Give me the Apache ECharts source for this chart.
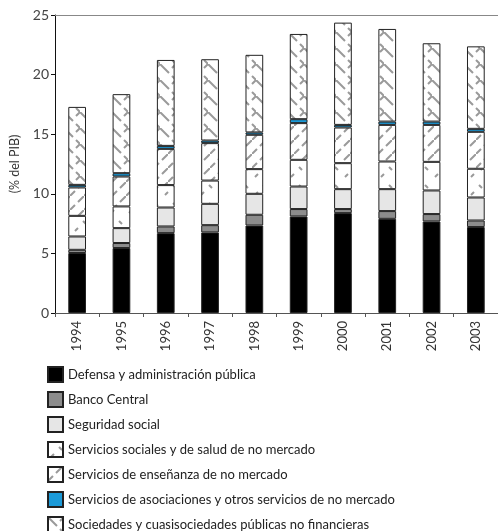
<!DOCTYPE html>
<html>
<head>
<meta charset="utf-8">
<script src="https://cdn.jsdelivr.net/npm/echarts@6/dist/echarts.min.js"></script>
<style>
html,body{margin:0;padding:0;background:#fff;}
#chart{width:498px;height:531px;}
</style>
</head>
<body>
<div id="chart"></div>
<script>
var years = ['1994','1995','1996','1997','1998','1999','2000','2001','2002','2003'];
var names = [
    'Defensa y administración pública',
    'Banco Central',
    'Seguridad social',
    'Servicios sociales y de salud de no mercado',
    'Servicios de enseñanza de no mercado',
    'Servicios de asociaciones y otros servicios de no mercado',
    'Sociedades y cuasisociedades públicas no financieras'
];
var defensa    = [5.03, 5.45, 6.70, 6.76, 7.34, 8.10, 8.38, 7.90, 7.68, 7.21];
var banco      = [0.27, 0.42, 0.56, 0.61, 0.90, 0.62, 0.34, 0.65, 0.62, 0.55];
var seguridad  = [1.12, 1.25, 1.59, 1.79, 1.76, 1.89, 1.67, 1.84, 1.98, 1.93];
var salud      = [1.73, 1.82, 1.88, 1.95, 2.07, 2.24, 2.18, 2.32, 2.40, 2.41];
var ensenanza  = [2.38, 2.51, 3.04, 3.14, 2.88, 3.08, 2.99, 3.07, 3.10, 3.10];
var asociacion = [0.22, 0.28, 0.25, 0.22, 0.20, 0.33, 0.22, 0.28, 0.28, 0.25];
var sociedades = [6.54, 6.63, 7.21, 6.82, 6.51, 7.15, 8.58, 7.77, 6.57, 6.92];
var yTicks = [0, 5, 10, 15, 20, 25];

// tiles for the hatched segments
function tile(size, draw){
    var c = document.createElement('canvas');
    c.width = size; c.height = size;
    var ctx = c.getContext('2d');
    ctx.fillStyle = '#fff';
    ctx.fillRect(0, 0, size, size);
    ctx.strokeStyle = '#9a9a9a';
    ctx.lineWidth = 2;
    draw(ctx);
    return {image: c, repeat: 'repeat'};
}
var patSalud = tile(18, function(ctx){
    ctx.beginPath();
    ctx.moveTo(3, 15); ctx.lineTo(6, 12);
    ctx.moveTo(11, 5); ctx.lineTo(14, 8);
    ctx.stroke();
});
var patEns = tile(14, function(ctx){
    ctx.beginPath();
    ctx.moveTo(0, 14); ctx.lineTo(5, 9);
    ctx.moveTo(8, 6); ctx.lineTo(14, 0);
    ctx.stroke();
});
var patSoc = tile(16, function(ctx){
    ctx.beginPath();
    ctx.moveTo(0, 0); ctx.lineTo(9, 9);
    ctx.moveTo(12, 12); ctx.lineTo(16, 16);
    ctx.moveTo(16, 0); ctx.lineTo(12, 4);
    ctx.stroke();
});

var seriesData = [defensa, banco, seguridad, salud, ensenanza, asociacion, sociedades];
var fills = ['#000000', '#8c8c8c', '#e6e6e6', patSalud, patEns, '#1b9ad8', patSoc];

var series = [];
for (var i = 0; i < seriesData.length; i++) {
    series.push({
        name: names[i],
        type: 'bar',
        stack: 'total',
        barWidth: '40%',
        xAxisIndex: 0,
        itemStyle: {
            color: fills[i],
            borderColor: '#222',
            borderWidth: 1
        },
        emphasis: {disabled: true},
        data: seriesData[i]
    });
}

// one legend per entry so the vertical list never wraps into a 2nd column
var legends = [];
for (var k = 0; k < names.length; k++) {
    legends.push({
        orient: 'vertical',
        left: 47,
        top: 366 + k * 25,
        padding: 0,
        itemWidth: 15,
        itemHeight: 15,
        icon: 'rect',
        selectedMode: false,
        textStyle: {
            color: '#222',
            fontSize: 13,
            fontFamily: 'Lato, "Open Sans", sans-serif'
        },
        data: [names[k]]
    });
}

var option = {
    animation: false,
    textStyle: {fontFamily: 'Lato, "Open Sans", sans-serif'},
    grid: {
        left: 48,
        right: 0,
        top: 15,
        bottom: 218
    },
    legend: legends,
    xAxis: [{
        type: 'category',
        data: years,
        position: 'bottom',
        axisLine: {lineStyle: {color: '#555', width: 1}},
        axisTick: {show: true, length: 4, lineStyle: {color: '#555'}},
        axisLabel: {
            rotate: 90,
            color: '#333',
            fontSize: 13,
            margin: 8
        }
    }, {
        type: 'category',
        data: years,
        position: 'top',
        axisLine: {show: true, lineStyle: {color: '#888', width: 1}},
        axisTick: {show: false},
        axisLabel: {show: false}
    }],
    yAxis: {
        type: 'value',
        min: yTicks[0],
        max: yTicks[yTicks.length - 1],
        interval: 5,
        name: '(% del PIB)',
        nameLocation: 'middle',
        nameGap: 34,
        nameTextStyle: {color: '#333', fontSize: 12.5},
        axisLine: {show: true, lineStyle: {color: '#111', width: 1}},
        axisTick: {show: true, length: 4, lineStyle: {color: '#111'}},
        splitLine: {show: false},
        axisLabel: {color: '#444', fontSize: 14, margin: 6}
    },
    series: series
};

var myChart = echarts.init(document.getElementById('chart'));
myChart.setOption(option, true);
</script>
</body>
</html>
